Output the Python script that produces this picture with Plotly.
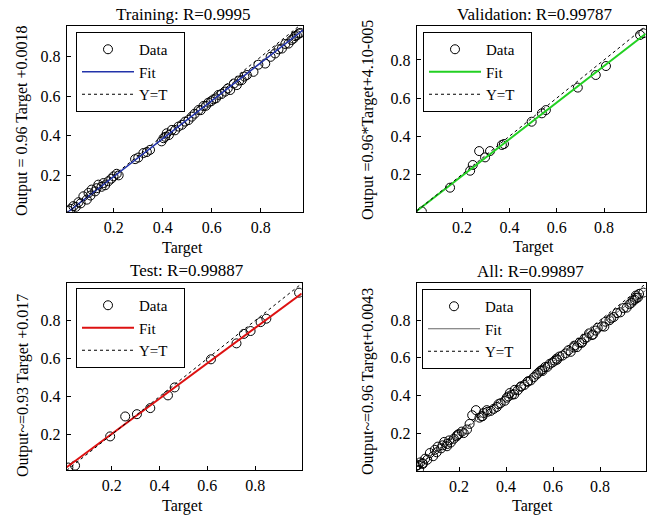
import plotly.graph_objects as go

# ---------------- data ----------------
train_t = [0.015,0.025,0.035,0.045,0.056,0.065,0.076,0.090,0.097,0.105,0.110,0.124,0.130,0.137,0.150,0.158,0.165,0.178,0.190,0.199,0.212,0.220,0.287,0.300,0.321,0.335,0.348,0.395,0.403,0.410,0.416,0.425,0.437,0.450,0.464,0.478,0.491,0.505,0.518,0.530,0.546,0.555,0.566,0.576,0.586,0.597,0.607,0.617,0.627,0.640,0.654,0.665,0.675,0.690,0.702,0.712,0.722,0.733,0.743,0.770,0.790,0.818,0.840,0.858,0.872,0.886,0.900,0.913,0.925,0.933,0.940,0.947,0.955,0.961]
train_y = [0.022,0.030,0.044,0.040,0.064,0.058,0.094,0.077,0.111,0.098,0.128,0.119,0.135,0.153,0.142,0.161,0.150,0.170,0.183,0.195,0.208,0.200,0.282,0.290,0.313,0.318,0.329,0.372,0.388,0.395,0.413,0.404,0.430,0.428,0.447,0.456,0.472,0.480,0.497,0.512,0.531,0.530,0.551,0.552,0.568,0.575,0.585,0.590,0.607,0.612,0.624,0.640,0.632,0.665,0.657,0.680,0.682,0.700,0.708,0.724,0.760,0.766,0.800,0.817,0.838,0.842,0.865,0.867,0.885,0.892,0.905,0.909,0.918,0.921]

val_t = [0.030,0.149,0.234,0.245,0.272,0.297,0.318,0.368,0.377,0.494,0.537,0.554,0.689,0.765,0.808,0.952,0.966]
val_y = [0.005,0.130,0.219,0.249,0.322,0.289,0.322,0.354,0.359,0.476,0.520,0.537,0.655,0.721,0.768,0.931,0.940]

test_t = [0.018,0.046,0.193,0.256,0.305,0.361,0.435,0.463,0.615,0.722,0.753,0.781,0.823,0.847,0.984]
test_y = [0.026,0.036,0.190,0.295,0.307,0.339,0.406,0.448,0.596,0.680,0.730,0.745,0.792,0.810,0.947]

all_t = train_t + val_t + test_t
all_y = train_y + val_y + test_y

titles = ["Training: R=0.9995", "Validation: R=0.99787", "Test: R=0.99887", "All: R=0.99897"]
ylabels = ["Output = 0.96 Target +0.0018", "Output =0.96*Target+4.10-005",
           "Output~=0.93 Target +0.017", "Output~=0.96 Target+0.0043"]
legend_names = ["Data", "Fit", "Y=T"]
fit_slope = [0.96, 0.96, 0.93, 0.96]
fit_icpt = [0.0018, 0.00004, 0.017, 0.0043]
fit_colors = ["#2233aa", "#22d022", "#dd1111", "#666666"]
fit_widths = [1.5, 2, 2, 1]
xranges = [[0.008, 0.972], [0.008, 0.976], [0.011, 0.995], [0.02, 0.994]]
yranges = [[0.016, 0.956], [0.004, 0.978], [0.013, 0.998], [0.0, 0.998]]
tick_vals = [0.2, 0.4, 0.6, 0.8]
tick_text = ["0.2", "0.4", "0.6", "0.8"]

W, H = 653, 515
# plot boxes in pixels: (left, right, top, bottom)
boxes = [(66.7, 303, 26, 211.7), (416.7, 645.7, 26, 211.7),
         (66.7, 301.7, 283, 470), (416.7, 645.7, 283, 470.7)]
title_pos = [(183, 14), (535, 14), (187, 270), (530, 271)]
xlab_pos = [(182, 248), (533, 247), (182, 506), (532, 506)]
ylab_pos = [(22, 121), (368, 120), (23, 386), (368, 382)]
legend_pos = [(76, 32), (423, 32), (76, 288), (422, 289)]

datasets = [(train_t, train_y), (val_t, val_y), (test_t, test_y), (all_t, all_y)]

FONT = "Liberation Serif"
PAD = "\u00a0\u00a0\u00a0"
fig = go.Figure()
layout = dict(width=W, height=H, margin=dict(l=0, r=0, t=0, b=0),
              paper_bgcolor="white", plot_bgcolor="white", showlegend=True,
              font=dict(family=FONT, size=16, color="black"))
annotations = []

for i in range(4):
    n = "" if i == 0 else str(i + 1)
    xa, ya = "x" + n, "y" + n
    lg = "legend" + n
    t, y = datasets[i]
    x0, x1 = xranges[i]
    fig.add_trace(go.Scatter(x=t, y=y, mode="markers", name=legend_names[0] + PAD, xaxis=xa, yaxis=ya,
                             legend=lg,
                             marker=dict(symbol="circle-open", size=9, color="black",
                                         line=dict(width=1, color="black"))))
    fig.add_trace(go.Scatter(x=[x0, x1], y=[fit_slope[i] * x0 + fit_icpt[i], fit_slope[i] * x1 + fit_icpt[i]],
                             mode="lines", name=legend_names[1] + PAD, xaxis=xa, yaxis=ya, legend=lg,
                             line=dict(color=fit_colors[i], width=fit_widths[i])))
    fig.add_trace(go.Scatter(x=[x0, x1], y=[x0, x1], mode="lines", name=legend_names[2] + PAD,
                             xaxis=xa, yaxis=ya, legend=lg,
                             line=dict(color="black", width=1, dash="dot")))
    l, r, tp, b = boxes[i]
    axcommon = dict(showline=True, linecolor="black", linewidth=1, mirror=True,
                    ticks="inside", ticklen=4, tickcolor="black", showgrid=False,
                    zeroline=False, tickvals=tick_vals, ticktext=tick_text,
                    tickfont=dict(family=FONT, size=16, color="black"))
    layout["xaxis" + n] = dict(axcommon, domain=[l / W, r / W], range=xranges[i],
                               anchor=ya, ticklabelstandoff=1)
    layout["yaxis" + n] = dict(axcommon, domain=[1 - b / H, 1 - tp / H], range=yranges[i],
                               anchor=xa, ticklabelstandoff=2)
    lx, ly = legend_pos[i]
    layout[lg] = dict(x=lx / W, y=1 - ly / H, xanchor="left", yanchor="top",
                      xref="paper", yref="paper",
                      bgcolor="white", bordercolor="black", borderwidth=1,
                      font=dict(family=FONT, size=15, color="black"),
                      itemwidth=52, tracegroupgap=0)
    tx, ty = title_pos[i]
    annotations.append(dict(text=titles[i], x=tx / W, y=1 - ty / H, xref="paper", yref="paper",
                            showarrow=False, xanchor="center", yanchor="middle",
                            font=dict(family=FONT, size=17, color="black")))
    xx, xy = xlab_pos[i]
    annotations.append(dict(text="Target", x=xx / W, y=1 - xy / H, xref="paper", yref="paper",
                            showarrow=False, xanchor="center", yanchor="middle",
                            font=dict(family=FONT, size=16, color="black")))
    yx, yy = ylab_pos[i]
    annotations.append(dict(text=ylabels[i], x=yx / W, y=1 - yy / H, xref="paper", yref="paper",
                            showarrow=False, xanchor="center", yanchor="middle", textangle=-90,
                            font=dict(family=FONT, size=16, color="black")))

layout["annotations"] = annotations
fig.update_layout(**layout)
fig.write_html("out.html")
